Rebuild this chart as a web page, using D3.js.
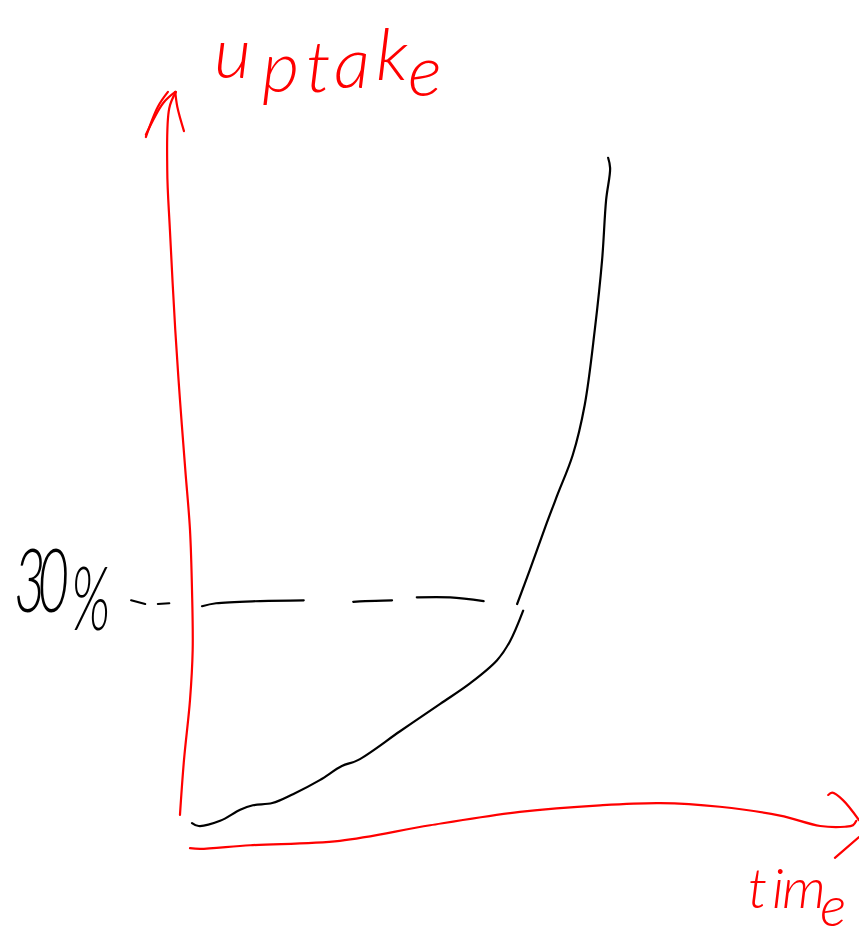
<!DOCTYPE html>
<html>
<head>
    <meta charset="utf-8">
    <script src="https://d3js.org/d3.v7.min.js"></script>
    <style type="text/css">
        html, body { margin: 0; padding: 0; background: #fff; }
        svg { display: block; }
        .ink { fill: none; stroke-linecap: round; stroke-linejoin: round; stroke-width: 2.2px; }
        .hand { font-family: "Lato", sans-serif; font-weight: 300; font-style: italic; }
    </style>
</head>
<body>
    <svg width="859" height="949"></svg>
    <script>
        // sketch values: [time, uptake], both in 0-100 units
        var curveLower = [[0.3,0.4],[1.3,0],[4.5,0.7],[7.5,2.2],[9.4,2.8],[12.3,3.1],[15.4,4.3],[19.4,6.2],[22.7,8.1],[25.1,8.9],[31.4,12.8],[37.4,16.5],[41.9,19.3],[45.9,22.4],[47.8,24.9],[49.8,29.1]];
        var curveUpper = [[48.9,30],[50.8,34.6],[53.1,40.4],[54.9,44.7],[57.2,50.1],[59,56.9],[60.5,67],[61.6,76.5],[62.2,84.6],[62.8,88.9],[62.5,90.3]];
        var dashes = [
            [[-8.8,30.5],[-6.7,30]],
            [[-4.8,30],[-3.1,30.1]],
            [[1.8,29.7],[3.9,30.1],[10.5,30.4],[17,30.5]],
            [[24.4,30.3],[26.2,30.4],[30.2,30.5]],
            [[33.9,30.9],[38.9,30.9],[43.9,30.4]]
        ];
        var axisY = [[-1.5,1.5],[-0.9,8.9],[0,17],[0.4,23.8],[0.3,31.9],[0,40],[-0.7,48.1],[-1.5,57.6],[-2.2,67],[-3,80.5],[-3.4,88.6],[-3.1,97],[-2.1,99.2]];
        var arrowYLeft = [[-6.6,93.1],[-4.8,97.2],[-3.3,99.2]];
        var arrowYInner = [[-6.6,93.4],[-4,97.7],[-2.2,99.2]];
        var arrowYRight = [[-2.2,99.2],[-1.9,97.2],[-0.9,93.9]];
        var axisX = [[0,-3],[1.5,-3.1],[9,-2.6],[22.4,-2],[35.9,0.1],[49.3,1.9],[61.3,2.8],[70.3,3.1],[79.2,2.6],[88.2,1.4],[94.2,0],[97.9,-0.1],[99.1,0.1],[99.6,0.7]];
        var arrowXTop = [[95.4,4.2],[96,4.5],[97.6,3.5],[100,0.8]];
        var arrowXBottom = [[100,-1.5],[96.4,-4.3]];

        var xLabel = "time";
        var yLabel = "uptake";
        var markLabel = "30%";

        var svg = d3.select("svg");
        var xScale = d3.scaleLinear().domain([0, 100]).range([190, 859]);
        var yScale = d3.scaleLinear().domain([0, 100]).range([826, 86]);

        var line = d3.line()
            .x(d => xScale(d[0]))
            .y(d => yScale(d[1]))
            .curve(d3.curveCatmullRom);

        function stroke(points, colour) {
            svg.append("path")
                .datum(points)
                .attr("class", "ink")
                .attr("stroke", colour)
                .attr("d", line);
        }

        [axisY, arrowYLeft, arrowYInner, arrowYRight, axisX, arrowXTop, arrowXBottom].forEach(function(d) {
            stroke(d, "#ff0000");
        });

        stroke(curveLower, "#000000");
        stroke(curveUpper, "#000000");
        dashes.forEach(function(d) { stroke(d, "#000000"); });

        svg.append("text")
            .attr("class", "hand")
            .attr("x", "214 262 306 334 376 408")
            .attr("y", "78 92 92 88 80 96")
            .attr("font-size", 72)
            .attr("fill", "#ff0000")
            .text(yLabel);

        svg.append("text")
            .attr("class", "hand")
            .attr("x", "748 772 782 820")
            .attr("y", "908 908 908 926")
            .attr("font-size", 56)
            .attr("fill", "#ff0000")
            .text(xLabel);

        svg.append("text")
            .attr("class", "hand")
            .attr("transform", "translate(14,612) scale(0.62,1)")
            .attr("x", "0 38 92")
            .attr("y", "0 0 18")
            .attr("font-size", 88)
            .attr("fill", "#000000")
            .text(markLabel);
    </script>
</body>
</html>
